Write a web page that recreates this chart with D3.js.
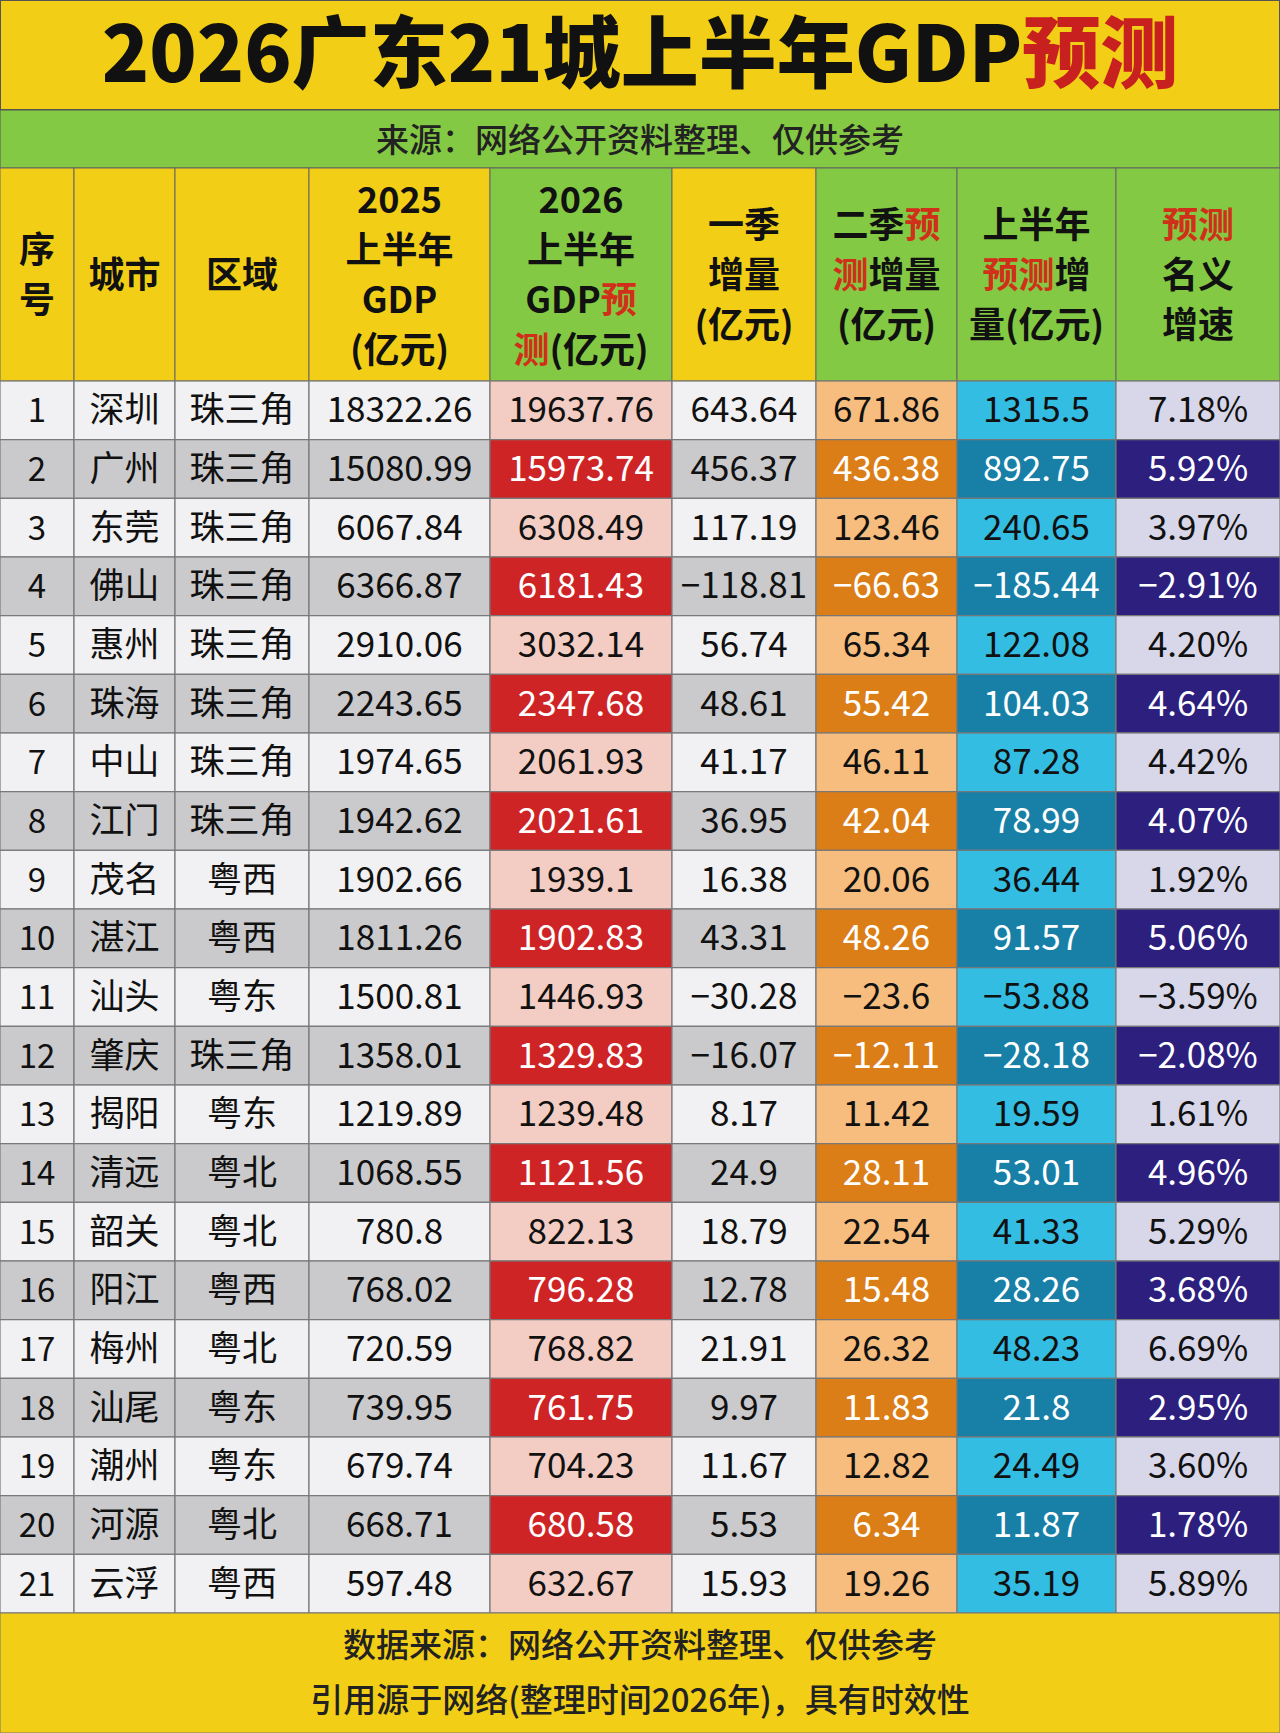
<!DOCTYPE html><html><head><meta charset="utf-8"><script src="https://cdn.jsdelivr.net/npm/d3@7"></script>
<style>body{margin:0;background:#fff}svg text{font-family:"Noto Sans CJK SC","Liberation Sans",sans-serif}</style></head><body><svg id="c" width="1280" height="1733"></svg>
<script>
const cities=["深圳","广州","东莞","佛山","惠州","珠海","中山","江门","茂名","湛江","汕头","肇庆","揭阳","清远","韶关","阳江","梅州","汕尾","潮州","河源","云浮"];
const regions=["珠三角","珠三角","珠三角","珠三角","珠三角","珠三角","珠三角","珠三角","粤西","粤西","粤东","珠三角","粤东","粤北","粤北","粤西","粤北","粤东","粤东","粤北","粤西"];
const gdp2025=["18322.26","15080.99","6067.84","6366.87","2910.06","2243.65","1974.65","1942.62","1902.66","1811.26","1500.81","1358.01","1219.89","1068.55","780.8","768.02","720.59","739.95","679.74","668.71","597.48"];
const gdp2026=["19637.76","15973.74","6308.49","6181.43","3032.14","2347.68","2061.93","2021.61","1939.1","1902.83","1446.93","1329.83","1239.48","1121.56","822.13","796.28","768.82","761.75","704.23","680.58","632.67"];
const q1=["643.64","456.37","117.19","−118.81","56.74","48.61","41.17","36.95","16.38","43.31","−30.28","−16.07","8.17","24.9","18.79","12.78","21.91","9.97","11.67","5.53","15.93"];
const q2=["671.86","436.38","123.46","−66.63","65.34","55.42","46.11","42.04","20.06","48.26","−23.6","−12.11","11.42","28.11","22.54","15.48","26.32","11.83","12.82","6.34","19.26"];
const h1=["1315.5","892.75","240.65","−185.44","122.08","104.03","87.28","78.99","36.44","91.57","−53.88","−28.18","19.59","53.01","41.33","28.26","48.23","21.8","24.49","11.87","35.19"];
const growth=["7.18%","5.92%","3.97%","−2.91%","4.20%","4.64%","4.42%","4.07%","1.92%","5.06%","−3.59%","−2.08%","1.61%","4.96%","5.29%","3.68%","6.69%","2.95%","3.60%","1.78%","5.89%"];
const headers=[[["序"],["号"]],[["城市"]],[["区域"]],[["2025"],["上半年"],["GDP"],["(亿元)"]],[["2026"],["上半年"],["GDP",["预"]],[["测"],"(亿元)"]],[["一季"],["增量"],["(亿元)"]],[["二季",["预"]],[["测"],"增量"],["(亿元)"]],[["上半年"],[["预测"],"增"],["量(亿元)"]],[[["预测"]],["名义"],["增速"]]];
const colEdges=[0,74,175,309,490,672,816,957,1116,1280];
const hdrBg=["#f2cf16","#f2cf16","#f2cf16","#f2cf16","#84c943","#f2cf16","#84c943","#84c943","#84c943"];
const oddBg=["#f1f1f3","#f1f1f3","#f1f1f3","#f1f1f3","#f3cdc3","#f1f1f3","#f6bd7e","#34bde3","#d7d7e9"];
const evenBg=["#cacacc","#cacacc","#cacacc","#cacacc","#cf2426","#cacacc","#dc7e17","#187fa7","#2c1f7d"];
const evenFg=["#111","#111","#111","#111","#fff","#111","#fff","#fff","#fff"];
const cols=[cities.map((d,i)=>String(i+1)),cities,regions,gdp2025,gdp2026,q1,q2,h1,growth];

const svg=d3.select("#c");
const y=d3.scaleBand().domain(d3.range(21)).range([381,1613]);
svg.append("rect").attr("width",1280).attr("height",1733).attr("fill","#f2cf16");
svg.append("rect").attr("x",0).attr("y",0).attr("width",1280).attr("height",110).attr("fill","#f2cf16").attr("stroke","#555").attr("stroke-width",2);
const t=svg.append("text").attr("x",640).attr("y",82).attr("text-anchor","middle").attr("font-size",78).attr("font-weight",900).attr("fill","#111");
t.append("tspan").text("2026广东21城上半年GDP");t.append("tspan").attr("fill","#c8201e").text("预测");
svg.append("rect").attr("x",0).attr("y",110).attr("width",1280).attr("height",58).attr("fill","#84c943").attr("stroke","#555");
svg.append("text").attr("x",640).attr("y",152).attr("text-anchor","middle").attr("font-size",33).attr("font-weight",500).attr("fill","#222").text("来源：网络公开资料整理、仅供参考");
headers.forEach((lines,c)=>{
  const x0=colEdges[c],x1=colEdges[c+1];
  svg.append("rect").attr("x",x0).attr("y",168).attr("width",x1-x0).attr("height",213).attr("fill",hdrBg[c]).attr("stroke","#666");
  const n=lines.length,lh=50,start=275-(n-1)*lh/2+13;
  lines.forEach((ln,k)=>{
    const tx=svg.append("text").attr("x",(x0+x1)/2).attr("y",start+k*lh).attr("text-anchor","middle").attr("font-size",36).attr("font-weight",700).attr("fill","#111");
    ln.forEach(p=>{ if(Array.isArray(p)){p.forEach(q=>tx.append("tspan").attr("fill","#d0301a").text(q));} else tx.append("tspan").text(p);});
  });
});
cols.forEach((vals,c)=>{
  const x0=colEdges[c],x1=colEdges[c+1];
  const g=svg.append("g");
  g.selectAll("rect").data(vals).join("rect").attr("x",x0).attr("y",(d,i)=>y(i)).attr("width",x1-x0).attr("height",y.bandwidth())
   .attr("fill",(d,i)=>i%2?evenBg[c]:oddBg[c]).attr("stroke","#777").attr("stroke-width",1.2);
  g.selectAll("text").data(vals).join("text").attr("x",(x0+x1)/2).attr("y",(d,i)=>y(i)+y.bandwidth()/2+12).attr("text-anchor","middle")
   .attr("font-size",c===0?33:35).attr("fill",(d,i)=>i%2?evenFg[c]:"#111").text(d=>d);
});
svg.append("rect").attr("x",0).attr("y",1613).attr("width",1280).attr("height",120).attr("fill","#f2cf16").attr("stroke","#777");
svg.append("text").attr("x",640).attr("y",1657).attr("text-anchor","middle").attr("font-size",33).attr("font-weight",500).attr("fill","#222").text("数据来源：网络公开资料整理、仅供参考");
svg.append("text").attr("x",640).attr("y",1712).attr("text-anchor","middle").attr("font-size",33).attr("font-weight",500).attr("fill","#222").text("引用源于网络(整理时间2026年)，具有时效性");
</script></body></html>
